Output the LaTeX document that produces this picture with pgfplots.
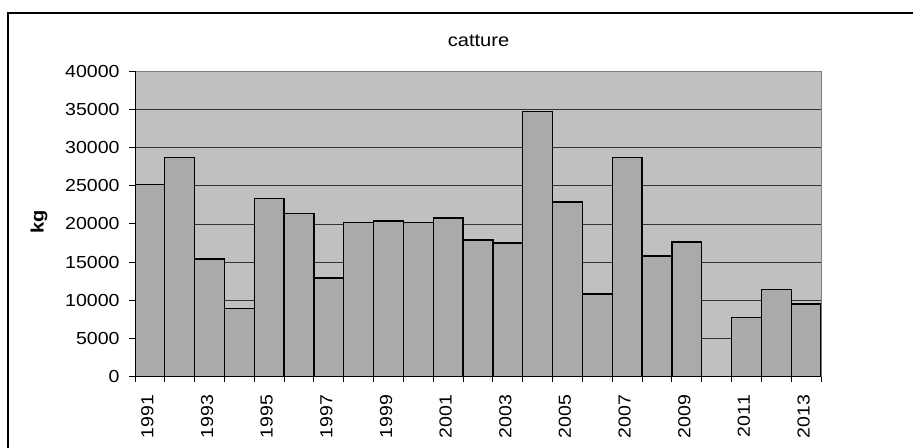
\documentclass[border=0pt]{standalone}
\usepackage{fontspec}
\setmainfont{Liberation Sans}[FakeStretch=1.12]
\usepackage{pgfplots}
\pgfplotsset{compat=1.18}
\definecolor{bargray}{HTML}{AAAAAA}
\definecolor{bggray}{HTML}{C0C0C0}
\definecolor{gridgray}{HTML}{333333}
\definecolor{boxgray}{HTML}{808080}
\begin{document}
\begin{tikzpicture}[x=1bp,y=1bp]
\useasboundingbox (0,0) rectangle (913,448);
\draw[line width=2bp] (8,-20) rectangle (940,435);
\node[font=\fontsize{18}{21}\selectfont, anchor=base] at (478.5,401.5) {catture};
\begin{axis}[
  at={(135bp,71.5bp)}, anchor=south west,
  scale only axis, width=686bp, height=305bp,
  xmin=-0.5, xmax=22.5, ymin=0, ymax=40000,
  axis background/.style={fill=bggray},
  axis line style={draw=boxgray, line width=1bp},
  ytick={0,5000,...,40000},
  minor ytick={0,5000,...,40000},
  scaled y ticks=false,
  /pgf/number format/assume math mode=true,
  /pgf/number format/set thousands separator={},
  ymajorgrids,
  grid style={gridgray, line width=0.9bp},
  tick align=outside,
  tick pos=left,
  major tick length=6bp,
  tick style={black, line width=1bp},
  xtick={0,2,4,6,8,10,12,14,16,18,20,22},
  xticklabels={1991,1993,1995,1997,1999,2001,2003,2005,2007,2009,2011,2013},
  every major x tick/.append style={draw=none},
  minor xtick={-0.5,0.5,...,22.5},
  minor tick length=6bp,
  xticklabel style={rotate=90, anchor=east, xshift=-9bp, yshift=2.5bp},
  yticklabel style={xshift=-6bp},
  tick label style={font=\fontsize{17.5}{21}\selectfont},
  ylabel={kg},
  ylabel style={font=\fontsize{18}{21}\selectfont\bfseries, at={(axis description cs:0,0.5)}, anchor=center, yshift=96bp, xshift=2.25bp},
]
\addplot[ybar, bar width=1, fill=bargray, draw=black, line width=1.3bp] coordinates {
(0,25200) (1,28700) (2,15400) (3,8900) (4,23300) (5,21400) (6,12900)
(7,20150) (8,20400) (9,20150) (10,20800) (11,17900) (12,17500)
(13,34750) (14,22900) (15,10800) (16,28700) (17,15800) (18,17650)
(20,7700) (21,11400) (22,9500)
};
\draw[black, line width=1.2bp] (axis description cs:0,1) -- (axis description cs:0,0) -- (axis description cs:1,0);
\end{axis}
\end{tikzpicture}
\end{document}
